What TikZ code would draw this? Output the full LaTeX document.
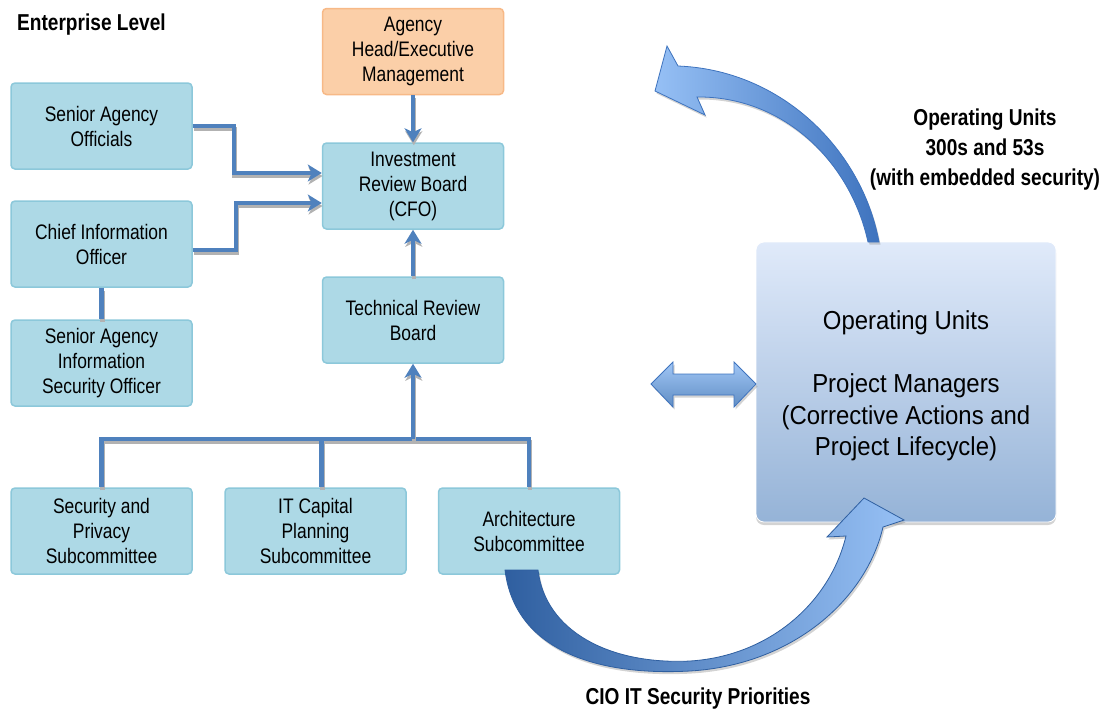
\documentclass[tikz,border=0pt]{standalone}
\usepackage{fontspec}
\setmainfont{Liberation Sans}[FakeStretch=0.83]
\newfontfamily\widefont{Liberation Sans}[FakeStretch=0.92]
\usetikzlibrary{arrows.meta,shadows}
\definecolor{boxfill}{RGB}{173,217,230}
\definecolor{boxline}{RGB}{140,200,218}
\definecolor{orfill}{RGB}{251,207,168}
\definecolor{orline}{RGB}{247,185,135}
\definecolor{conncol}{RGB}{79,129,189}
\definecolor{ouTop}{RGB}{224,234,250}
\definecolor{ouBot}{RGB}{149,179,215}
\definecolor{arrDark}{RGB}{47,95,160}
\definecolor{arrLight}{RGB}{150,192,245}
\definecolor{arrMid}{RGB}{62,115,190}
\tikzset{
  orgbox/.style={draw=boxline, fill=boxfill, line width=1.5pt, rounded corners=4pt,
    align=center, inner sep=0pt, minimum width=181pt, minimum height=86pt,
    font=\fontsize{21}{25}\selectfont,
    execute at begin node={\rule{0pt}{24pt}}},
  headbox/.style={orgbox, draw=orline, fill=orfill},
  link/.style={draw=conncol, line width=4.5pt,
    preaction={draw=black!30, line width=4.5pt, transform canvas={shift={(0.8pt,-3pt)}}}},
  arrowlink/.style={link, -{Stealth[length=14pt,width=17pt,inset=4pt]}},
  biglabel/.style={font=\bfseries\fontsize{23}{30}\selectfont, align=center},
  bigarrow/.style={draw=arrMid, line width=0.8pt,
    drop shadow={shadow xshift=1.5pt, shadow yshift=-2.5pt, opacity=0.35}}
}
\begin{document}
\begin{tikzpicture}[x=1pt,y=-1pt]
\useasboundingbox (0,0) rectangle (1107,713);

% title
\node[font=\bfseries\fontsize{23}{26}\selectfont, anchor=west, inner sep=0pt] (title) at (17,25) {Enterprise Level};

% boxes
\node[headbox] (agency) at (413,51.5) {Agency\\Head/Executive\\Management};
\node[orgbox] (sao) at (101.5,126) {Senior Agency\\Officials};
\node[orgbox] (irb) at (413,186) {Investment\\Review Board\\(CFO)};
\node[orgbox] (cio) at (101.5,244) {Chief Information\\Officer};
\node[orgbox] (trb) at (413,320) {Technical Review\\Board};
\node[orgbox] (saiso) at (101.5,363) {Senior Agency\\Information\\Security Officer};
\node[orgbox] (sp) at (101.5,531) {Security and\\Privacy\\Subcommittee};
\node[orgbox] (itc) at (315.5,531) {IT Capital\\Planning\\Subcommittee};
\node[orgbox] (arch) at (529,531) {Architecture\\Subcommittee};

% connectors
\draw[arrowlink] (agency.south) -- (irb.north);
\draw[arrowlink] (sao.east) -- ++(41,0) |- ([yshift=13pt]irb.west);
\draw[arrowlink] ([yshift=-6pt]cio.east) -- ++(43,0) |- ([yshift=-17pt]irb.west);
\draw[link] (cio.south) -- (saiso.north);
\draw[arrowlink] (trb.north) -- (irb.south);
\coordinate (bus) at (413,439);
\draw[link] (sp.north) -- (sp.north |- bus) -- (arch.north |- bus) -- (arch.north);
\draw[link] ([xshift=6pt]itc.north) -- ([xshift=6pt]itc.north |- bus);
\draw[arrowlink] (trb.south |- bus) -- (trb.south);

% operating units box
\node[rounded corners=8pt, minimum width=300pt, minimum height=280pt, inner sep=0pt,
  top color=ouTop, bottom color=ouBot, draw=white, line width=0.8pt,
  drop shadow={shadow xshift=0pt, shadow yshift=-3pt, opacity=0.35}] (ou) at (906,382) {};
\node[align=center, font=\widefont\fontsize{26}{31.5}\selectfont] (outext) at (906,386)
  {Operating Units\\[31.5pt]Project Managers\\(Corrective Actions and\\Project Lifecycle)};

% double arrow
\path[bigarrow, top color=arrLight!90!white, bottom color=conncol!90!white]
  (651,384) -- (673,362) -- (673,374) -- (734,374) -- (734,362) -- (756,384)
  -- (734,407) -- (734,395) -- (673,395) -- (673,407) -- cycle;

% top curved arrow
\path[bigarrow, left color=arrLight, right color=arrMid]
  (879,242) .. controls (862,150) and (782,70) .. (678,66) -- (667,46) -- (655,91)
  -- (705,115) -- (697,97) .. controls (782,96) and (850,160) .. (868,242) -- cycle;

% bottom curved arrow
\path[bigarrow, draw=arrDark, left color=arrDark, right color=arrLight]
  (505,570) .. controls (515,652) and (600,676) .. (690,671)
  .. controls (792,665) and (866,600) .. (883,527) -- (904,520) -- (864,498)
  -- (827,537) -- (846,536) .. controls (830,602) and (770,656) .. (690,661)
  .. controls (608,665) and (545,630) .. (538,570) -- cycle;

% labels
\node[biglabel] (oulabel) at (985,150) {Operating Units\\300s and 53s\\(with embedded security)};
\node[biglabel] (ciolabel) at (698,699) {CIO IT Security Priorities};
\end{tikzpicture}
\end{document}
